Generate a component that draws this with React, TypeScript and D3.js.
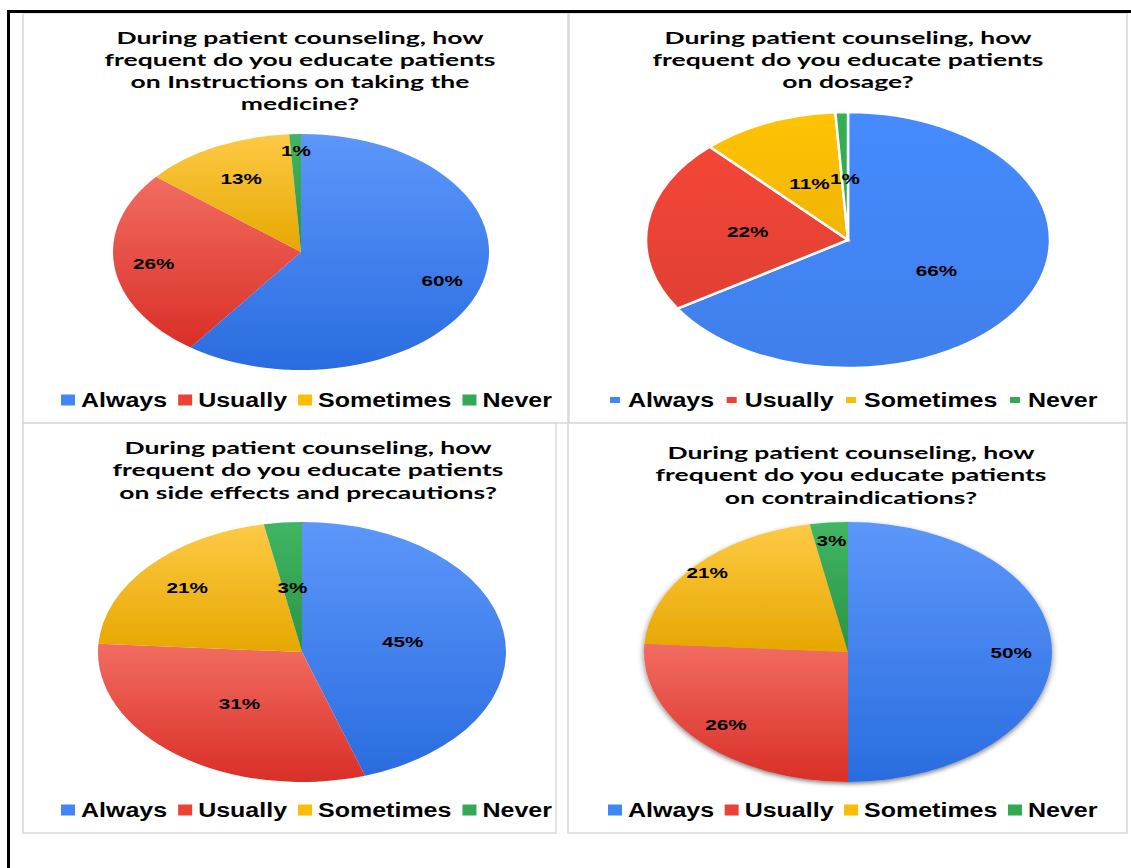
import React from "react";
import * as d3 from "d3";

const categories = ["Always", "Usually", "Sometimes", "Never"];

const instructionsValues = [60, 26, 13, 1];
const dosageValues = [66, 22, 11, 1];
const sideEffectsValues = [45, 31, 21, 3];
const contraindicationsValues = [50, 26, 21, 3];

const instructionsTitle = [
  "During patient counseling, how",
  "frequent do you educate patients",
  "on Instructions on taking the",
  "medicine?",
];
const dosageTitle = [
  "During patient counseling, how",
  "frequent do you educate patients",
  "on dosage?",
];
const sideEffectsTitle = [
  "During patient counseling, how",
  "frequent do you educate patients",
  "on side effects and precautions?",
];
const contraindicationsTitle = [
  "During patient counseling, how",
  "frequent do you educate patients",
  "on contraindications?",
];

const GRADS: [string, string][] = [
  ["#5c97fa", "#2a6ce0"],
  ["#f26c61", "#d92f27"],
  ["#fdca45", "#e6a700"],
  ["#40b663", "#2a9446"],
];
const FLAT = ["#4285f4", "#ea4335", "#fbbc04", "#34a853"];

const TITLE_FONT = "Lato, 'Open Sans', sans-serif";
const SANS = "'Liberation Sans', Arial, sans-serif";
const TITLE_SIZE = 17;
const TITLE_SX = 1.56;
const LEG_SIZE = 20;
const LEG_SX = 1.25;
const LAB_SIZE = 15;
const LAB_SX = 1.38;

let ctx: CanvasRenderingContext2D | null = null;
function measure(text: string, font: string) {
  if (!ctx) ctx = document.createElement("canvas").getContext("2d");
  if (!ctx) return text.length * 10;
  ctx.font = font;
  return ctx.measureText(text).width;
}

type Chart = {
  id: string;
  title: string[];
  values: number[];
  panel: [number, number, number, number];
  cx: number;
  cy: number;
  rx: number;
  ry: number;
  titleX: number;
  titleY: number;
  legendX: number;
  legendY: number;
  sw: number;
  sh: number;
  swGap: number;
  itemGap: number;
  labelR: number[];
  stroke: boolean;
  shadow: boolean;
  flat: boolean;
};

const charts: Chart[] = [
  {
    id: "c1", title: instructionsTitle, values: instructionsValues,
    panel: [23, 13, 568, 423], cx: 301, cy: 252, rx: 188, ry: 118,
    titleX: 300, titleY: 43.5, legendX: 61, legendY: 407, sw: 14, sh: 11, swGap: 6, itemGap: 11,
    labelR: [0.79, 0.79, 0.7, 0.86], stroke: false, shadow: false, flat: false,
  },
  {
    id: "c2", title: dosageTitle, values: dosageValues,
    panel: [569, 13, 1127, 423], cx: 848, cy: 240, rx: 202, ry: 128,
    titleX: 848, titleY: 43.5, legendX: 610, legendY: 407, sw: 10, sh: 6, swGap: 8, itemGap: 12.5,
    labelR: [0.5, 0.5, 0.48, 0.48], stroke: true, shadow: false, flat: true,
  },
  {
    id: "c3", title: sideEffectsTitle, values: sideEffectsValues,
    panel: [23, 423, 556, 833], cx: 302, cy: 652, rx: 204, ry: 130,
    titleX: 308, titleY: 454, legendX: 61, legendY: 817, sw: 14, sh: 11, swGap: 6, itemGap: 11,
    labelR: [0.5, 0.5, 0.75, 0.5], stroke: false, shadow: false, flat: false,
  },
  {
    id: "c4", title: contraindicationsTitle, values: contraindicationsValues,
    panel: [568, 423, 1127, 833], cx: 848, cy: 652, rx: 204, ry: 130,
    titleX: 851, titleY: 459, legendX: 608, legendY: 817, sw: 14, sh: 11, swGap: 6, itemGap: 10.5,
    labelR: [0.8, 0.82, 0.92, 0.86], stroke: false, shadow: true, flat: false,
  },
];

function PieChart({ c }: { c: Chart }) {
  const R = c.rx;
  const ys = c.ry / c.rx;
  const pie = d3.pie<number>().sort(null).value((d) => d);
  const arcs = pie(c.values);
  const arc = d3.arc<d3.PieArcDatum<number>>().innerRadius(0).outerRadius(R);
  const legFont = `bold ${LEG_SIZE}px 'Liberation Sans', Arial, sans-serif`;

  let lx = c.legendX;
  const legendItems = categories.map((cat, i) => {
    const sx = lx;
    const tx = sx + c.sw + c.swGap;
    const w = measure(cat, legFont) * LEG_SX;
    lx = tx + w + c.itemGap;
    return { cat, i, sx, tx };
  });

  return (
    <g>
      <rect
        x={c.panel[0]} y={c.panel[1]}
        width={c.panel[2] - c.panel[0]} height={c.panel[3] - c.panel[1]}
        fill="#fff" stroke="#d9d9d9" strokeWidth={1.5}
      />
      {c.title.map((line, i) => (
        <text
          key={i}
          transform={`translate(${c.titleX},${c.titleY + i * 22.3}) scale(${TITLE_SX},1)`}
          textAnchor="middle"
          fontFamily={TITLE_FONT}
          fontWeight={700}
          fontSize={TITLE_SIZE}
          fill="#000"
        >
          {line}
        </text>
      ))}
      <g
        transform={`translate(${c.cx},${c.cy}) scale(1,${ys})`}
        filter={c.shadow ? "url(#shadow)" : undefined}
      >
        {arcs.map((a, i) => (
          <path
            key={i}
            d={arc(a) || ""}
            fill={c.flat ? `url(#flat${i})` : `url(#grad${i})`}
            stroke={c.stroke ? "#fff" : "none"}
            strokeWidth={c.stroke ? 2.5 : 0}
            vectorEffect="non-scaling-stroke"
          />
        ))}
      </g>
      {arcs.map((a, i) => {
        const f = c.labelR[i];
        const p = d3.arc<d3.PieArcDatum<number>>().innerRadius(R * f).outerRadius(R * f).centroid(a);
        return (
          <text
            key={i}
            transform={`translate(${c.cx + p[0]},${c.cy + p[1] * ys + 5.5}) scale(${LAB_SX},1)`}
            textAnchor="middle"
            fontFamily={SANS}
            fontWeight={700}
            fontSize={LAB_SIZE}
            fill="#000"
          >
            {`${c.values[i]}%`}
          </text>
        );
      })}
      {legendItems.map((it) => (
        <g key={it.cat}>
          <rect
            x={it.sx}
            y={c.legendY - 7 - c.sh / 2}
            width={c.sw}
            height={c.sh}
            fill={FLAT[it.i]}
          />
          <text
            transform={`translate(${it.tx},${c.legendY}) scale(${LEG_SX},1)`}
            fontFamily={SANS}
            fontWeight={700}
            fontSize={LEG_SIZE}
            fill="#000"
          >
            {it.cat}
          </text>
        </g>
      ))}
    </g>
  );
}

export default function App() {
  return (
    <svg
      width={1131}
      height={868}
      style={{ position: "absolute", left: 0, top: 0, background: "#fff" }}
    >
      <defs>
        {GRADS.map((g, i) => (
          <linearGradient key={i} id={`grad${i}`} x1="0" y1="0" x2="0" y2="1">
            <stop offset="0" stopColor={g[0]} />
            <stop offset="1" stopColor={g[1]} />
          </linearGradient>
        ))}
        {FLAT.map((col, i) => (
          <linearGradient key={i} id={`flat${i}`} x1="0" y1="0" x2="0" y2="1">
            <stop offset="0" stopColor={d3.color(col)!.brighter(0.12).toString()} />
            <stop offset="1" stopColor={d3.color(col)!.darker(0.12).toString()} />
          </linearGradient>
        ))}
        <filter id="shadow" x="-10%" y="-10%" width="120%" height="130%">
          <feDropShadow dx="0" dy="3" stdDeviation="3" floodColor="#000" floodOpacity="0.5" />
        </filter>
      </defs>
      <rect x={0} y={0} width={1131} height={868} fill="#fff" />
      {charts.map((c) => (
        <PieChart key={c.id} c={c} />
      ))}
      <line x1={7} y1={11.5} x2={1131} y2={11.5} stroke="#000" strokeWidth={3} />
      <line x1={8.5} y1={10} x2={8.5} y2={868} stroke="#000" strokeWidth={3} />
    </svg>
  );
}
